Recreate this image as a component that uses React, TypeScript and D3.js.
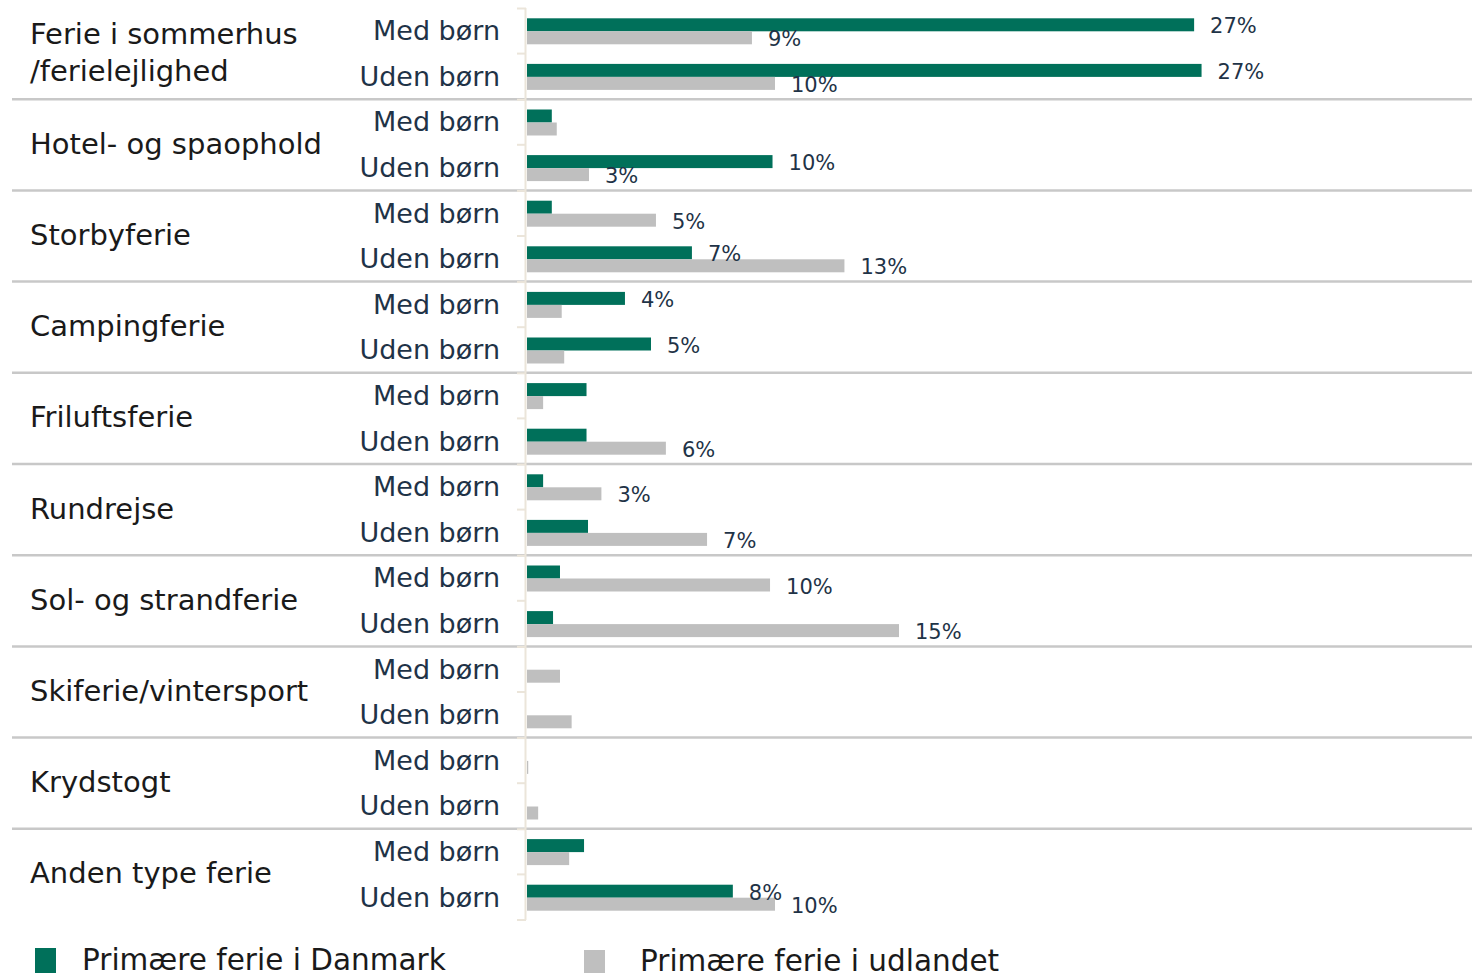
import React from "react";
import * as d3 from "d3";

const categories = [
  ["Ferie i sommerhus", "/ferielejlighed"],
  ["Hotel- og spaophold"],
  ["Storbyferie"],
  ["Campingferie"],
  ["Friluftsferie"],
  ["Rundrejse"],
  ["Sol- og strandferie"],
  ["Skiferie/vintersport"],
  ["Krydstogt"],
  ["Anden type ferie"],
];
const subgroups = ["Med børn", "Uden børn"];
// values in %, [Med børn, Uden børn]
const danmark = [
  [26.9, 27.2],
  [1.0, 9.9],
  [1.0, 6.65],
  [3.95, 5.0],
  [2.4, 2.4],
  [0.65, 2.46],
  [1.33, 1.05],
  [0, 0],
  [0, 0],
  [2.3, 8.3],
];
const udlandet = [
  [9.07, 10.0],
  [1.2, 2.5],
  [5.2, 12.8],
  [1.4, 1.5],
  [0.65, 5.6],
  [3.0, 7.26],
  [9.8, 15.0],
  [1.33, 1.8],
  [0.05, 0.45],
  [1.7, 10.0],
];
const legendLabels = ["Primære ferie i Danmark", "Primære ferie i udlandet"];

const GREEN = "#00705a";
const GRAY = "#bfbfbf";
const TEXT = "#1f3347";
const FONT = "'DejaVu Sans', 'Noto Sans', sans-serif";

export default function App() {
  const W = 1475;
  const H = 973;
  const x = d3.scaleLinear().domain([0, 38]).range([527, 527 + 38 * 24.8]);
  const keys = categories.map((_, i) => String(i));
  const y = d3.scaleBand().domain(keys).range([8, 920]).padding(0);
  const ys = d3.scaleBand().domain(subgroups).range([0, y.bandwidth()]).padding(0);
  const barH = 13;
  const fmt = (v: number) => `${Math.round(v)}%`;
  const showLabel = (v: number) => Math.round(v) >= 3;

  return (
    <svg
      width={W}
      height={H}
      style={{ position: "absolute", left: 0, top: 0, display: "block", background: "#fff" }}
      fontFamily={FONT}
    >
      {/* separators */}
      {keys.slice(1).map((k) => (
        <line key={"sep" + k} x1={12} x2={1472} y1={y(k)!} y2={y(k)!} stroke="#c8c8c8" strokeWidth={2.5} />
      ))}
      {/* axis */}
      <line x1={525.5} x2={525.5} y1={8} y2={920} stroke="#ebe5da" strokeWidth={2} />
      {keys.map((k) => {
        const y0 = y(k)!;
        return (
          <g key={"tk" + k}>
            <line x1={517} x2={526} y1={y0 + 0.5} y2={y0 + 0.5} stroke="#ebe5da" strokeWidth={2} />
            <line x1={517} x2={526} y1={y0 + ys.bandwidth()} y2={y0 + ys.bandwidth()} stroke="#ebe5da" strokeWidth={2} />
          </g>
        );
      })}
      <line x1={517} x2={526} y1={920} y2={920} stroke="#ebe5da" strokeWidth={2} />

      {categories.map((lines, i) => {
        const k = keys[i];
        const y0 = y(k)!;
        const cy = y0 + y.bandwidth() / 2;
        const lh = 37;
        return (
          <g key={"c" + i}>
            {lines.map((t, j) => (
              <text
                key={j}
                x={30}
                y={cy - 1.5 + (j - (lines.length - 1) / 2) * lh}
                dy="0.36em"
                fontSize={29}
                fill="#1a1a1a"
              >
                {t}
              </text>
            ))}
            {subgroups.map((s, si) => {
              const sc = y0 + ys(s)! + ys.bandwidth() / 2;
              const dv = danmark[i][si];
              const uv = udlandet[i][si];
              return (
                <g key={s}>
                  <text x={500} y={sc} dy="0.35em" textAnchor="end" fontSize={27} fill={TEXT}>
                    {s}
                  </text>
                  {dv > 0 && (
                    <rect x={x(0)} y={sc - barH + 0.5} width={x(dv) - x(0)} height={barH} fill={GREEN} />
                  )}
                  {uv > 0 && (
                    <rect x={x(0)} y={sc + 0.5} width={x(uv) - x(0)} height={barH} fill={GRAY} />
                  )}
                  {showLabel(dv) && (
                    <text x={x(dv) + 16} y={sc - barH / 2 + 1.5} dy="0.36em" fontSize={21} fill={TEXT}>
                      {fmt(dv)}
                    </text>
                  )}
                  {showLabel(uv) && (
                    <text x={x(uv) + 16} y={sc + barH / 2 + 1.5} dy="0.36em" fontSize={21} fill={TEXT}>
                      {fmt(uv)}
                    </text>
                  )}
                </g>
              );
            })}
          </g>
        );
      })}

      {/* legend */}
      <rect x={35} y={948} width={21} height={25} fill={GREEN} />
      <text x={82} y={970} fontSize={29.5} fill="#1a1a1a">
        {legendLabels[0]}
      </text>
      <rect x={584} y={950} width={21} height={23} fill={GRAY} />
      <text x={640} y={971} fontSize={29.5} fill="#1a1a1a">
        {legendLabels[1]}
      </text>
    </svg>
  );
}
